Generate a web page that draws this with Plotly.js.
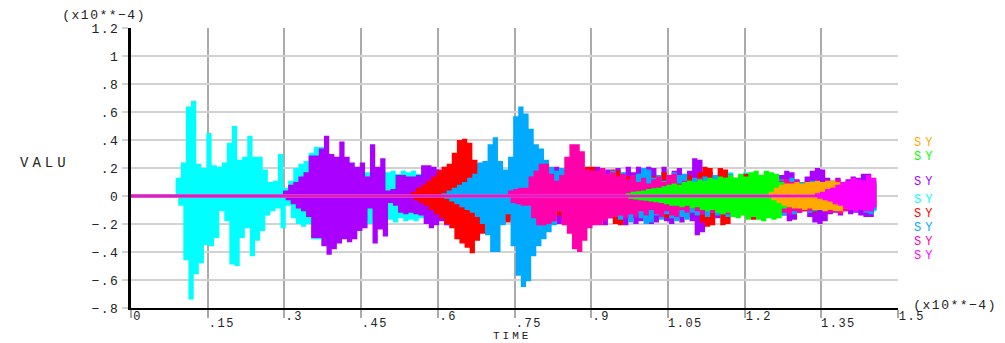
<!DOCTYPE html>
<html><head><meta charset="utf-8">
<script src="https://cdn.plot.ly/plotly-3.0.1.min.js"></script>
<style>
html,body{margin:0;padding:0;background:#fff;}
#chart{width:1005px;height:343px;}
#chart text{letter-spacing:1.5px;}
</style></head><body><div id="chart"></div>
<script>
// ---- axes ----
const xTicks = [0,0.15,0.3,0.45,0.6,0.75,0.9,1.05,1.2,1.35,1.5];
const xTickText = ["0",".15",".3",".45",".6",".75",".9","1.05","1.2","1.35","1.5"];
const yTicks = [-0.8,-0.6,-0.4,-0.2,0,0.2,0.4,0.6,0.8,1,1.2];
const yTickText = ["\u2212.8","\u2212.6","\u2212.4","\u2212.2","0",".2",".4",".6",".8","1","1.2"];
const sampleStep = 0.01; // one up/down swing per step

// ---- series (values x10**-4), upper and lower swing per step ----
const cyanStart = 0.09;
const cyanHi = [0.12,0.23,0.63,0.67,0.22,0.19,0.44,0.21,0.20,0.23,
0.37,0.49,0.25,0.27,0.42,0.27,0.27,0.18,0.09,0.10,
0.29,0.05,0.10,0.19,0.22,0.24,0.30,0.34,0.34,0.28,
0.25,0.22,0.20,0.18,0.20,0.17,0.19,0.16,0.18,0.15,
0.17,0.16,0.17,0.15,0.17,0.16,0.17,0.15,0.16,0.14,
0.16,0.15,
0.15,0.17,0.12,0.16,0.13,0.17,0.14,0.11,0.16,0.13,
0.15,0.12,0.16,0.14,0.11,0.15,0.13,0.16,0.12,0.14,
0.15,0.11,0.14,0.12,0.15,0.13,0.10,0.14,0.12,0.15,
0.11,0.13,0.15,0.12,0.14,0.16,0.16,0.12,0.10,0.13,
0.11,0.14,0.12,0.10,0.13,0.11,0.14,0.10,0.12,0.11,
0.13,0.10,0.12,0.11,0.13,0.14,0.16,0.11,0.13,0.16,
0.12,0.10,0.11,0.09,0.11,0.10,0.12,0.09,0.10,0.08,
0.09,0.10,0.08,0.07,0.09,0.08,0.10,0.07,0.08,0.09,
0.07,0.08,0.07,0.10,0.08];
const cyanLo = [-0.06,-0.45,-0.73,-0.55,-0.47,-0.34,-0.35,-0.29,-0.10,-0.17,
-0.48,-0.49,-0.29,-0.22,-0.42,-0.31,-0.24,-0.13,-0.10,-0.08,
-0.22,-0.06,-0.15,-0.19,-0.21,-0.19,-0.30,-0.30,-0.34,-0.30,
-0.28,-0.25,-0.22,-0.20,-0.18,-0.20,-0.17,-0.19,-0.16,-0.18,
-0.17,-0.16,-0.18,-0.15,-0.17,-0.16,-0.17,-0.15,-0.16,-0.14,
-0.15,-0.15,
-0.16,-0.13,-0.17,-0.12,-0.15,-0.14,-0.16,-0.12,-0.14,-0.17,
-0.13,-0.15,-0.12,-0.16,-0.14,-0.13,-0.15,-0.11,-0.14,-0.16,
-0.12,-0.15,-0.13,-0.11,-0.14,-0.12,-0.15,-0.13,-0.11,-0.14,
-0.13,-0.15,-0.12,-0.14,-0.11,-0.14,-0.15,-0.12,-0.13,-0.11,
-0.13,-0.12,-0.10,-0.13,-0.11,-0.12,-0.14,-0.10,-0.12,-0.11,
-0.12,-0.10,-0.13,-0.11,-0.12,-0.10,-0.12,-0.11,-0.10,-0.12,
-0.11,-0.09,-0.11,-0.10,-0.09,-0.10,-0.09,-0.11,-0.09,-0.10,
-0.08,-0.09,-0.08,-0.10,-0.08,-0.07,-0.08,-0.09,-0.07,-0.08,
-0.08,-0.07,-0.09,-0.12,-0.11];

const purpleStart = 0.30;
const purpleHi = [0.03,0.07,0.09,0.13,0.16,0.28,0.28,0.33,0.42,0.29,
0.27,0.38,0.27,0.23,0.20,0.23,0.13,0.36,0.20,0.26,
0.03,0.04,0.14,0.14,0.13,0.13,0.14,0.21,0.21,0.20,
0.18,0.14,0.20,0.15,0.17,0.13,0.19,0.16,0.22,0.18,
0.15,0.19,0.14,0.17,0.20,0.15,0.18,0.13,0.17,0.15,
0.19,0.14,0.17,0.20,0.15,0.18,0.13,0.16,0.19,0.14,
0.17,0.20,0.15,0.18,0.13,0.19,0.15,0.20,0.16,0.20,
0.17,0.20,0.19,0.14,0.20,0.13,0.17,0.19,0.14,0.17,
0.26,0.25,0.14,0.16,0.12,0.15,0.11,0.14,0.10,0.13,
0.11,0.13,0.10,0.12,0.09,0.12,0.10,0.14,0.17,0.16,
0.11,0.09,0.13,0.17,0.19,0.18,0.12,0.10,0.12,0.09,
0.11,0.13,0.12,0.15,0.15,0.10];
const purpleLo = [-0.02,-0.05,-0.08,-0.10,-0.14,-0.29,-0.29,-0.35,-0.41,-0.37,
-0.33,-0.30,-0.32,-0.30,-0.24,-0.22,-0.08,-0.33,-0.23,-0.28,
-0.04,-0.06,-0.11,-0.12,-0.11,-0.12,-0.13,-0.19,-0.22,-0.20,
-0.17,-0.20,-0.14,-0.18,-0.15,-0.19,-0.14,-0.17,-0.20,-0.16,
-0.18,-0.14,-0.19,-0.16,-0.15,-0.20,-0.16,-0.18,-0.14,-0.19,
-0.16,-0.18,-0.14,-0.19,-0.17,-0.15,-0.20,-0.16,-0.18,-0.15,
-0.19,-0.16,-0.20,-0.15,-0.18,-0.17,-0.20,-0.15,-0.19,-0.17,
-0.15,-0.19,-0.18,-0.14,-0.17,-0.19,-0.15,-0.18,-0.14,-0.17,
-0.27,-0.25,-0.16,-0.13,-0.15,-0.12,-0.14,-0.11,-0.13,-0.12,
-0.10,-0.12,-0.11,-0.13,-0.10,-0.12,-0.11,-0.13,-0.17,-0.16,
-0.11,-0.10,-0.14,-0.18,-0.19,-0.17,-0.12,-0.11,-0.13,-0.10,
-0.12,-0.11,-0.13,-0.14,-0.14,-0.10];

const redStart = 0.55;
const redHi = [0.02,0.05,0.07,0.10,0.13,0.17,0.20,0.22,0.30,0.39,
0.40,0.37,0.25,0.22,0.18,
0.16,0.12,0.17,0.13,0.15,0.11,0.16,0.14,0.12,0.15,
0.13,0.14,0.16,0.15,0.11,0.13,0.10,0.14,0.16,0.20,
0.20,0.12,0.14,0.10,0.18,0.17,0.11,0.13,0.09,0.12,
0.14,0.10,0.13,0.11,0.16,0.12,0.10,0.13,0.11,0.14,
0.10,0.16,0.20,0.19,0.11,0.19,0.18,0.10,0.12,0.11,
0.15,0.15,0.09,0.11,0.08,0.10,0.09,0.11,0.08,0.10,
0.09,0.07,0.09,0.10,0.07,0.08,0.10,0.07,0.08,0.06,
0.08,0.07,0.09,0.06,0.07,0.05];
const redLo = [-0.02,-0.04,-0.06,-0.09,-0.12,-0.15,-0.19,-0.22,-0.30,-0.33,
-0.36,-0.40,-0.31,-0.26,-0.20,
-0.17,-0.13,-0.15,-0.18,-0.12,-0.16,-0.14,-0.13,-0.16,-0.12,
-0.15,-0.13,-0.14,-0.13,-0.15,-0.11,-0.14,-0.12,-0.15,-0.18,
-0.19,-0.13,-0.11,-0.14,-0.19,-0.20,-0.12,-0.14,-0.10,-0.13,
-0.12,-0.14,-0.11,-0.13,-0.15,-0.10,-0.13,-0.12,-0.14,-0.11,
-0.13,-0.18,-0.21,-0.20,-0.12,-0.20,-0.19,-0.11,-0.13,-0.10,
-0.15,-0.16,-0.10,-0.12,-0.09,-0.11,-0.10,-0.12,-0.09,-0.11,
-0.08,-0.10,-0.09,-0.11,-0.08,-0.09,-0.07,-0.09,-0.08,-0.07,
-0.09,-0.07,-0.08,-0.06,-0.07,-0.05];

const blueStart = 0.61;
const blueHi = [0.01,0.03,0.05,0.07,0.09,0.12,0.15,0.23,0.24,0.36,
0.41,0.24,0.18,0.27,0.56,0.63,0.58,0.47,0.36,0.33,
0.25,0.20,0.17,0.19,
0.16,0.12,0.17,0.10,0.15,0.13,0.16,0.11,0.14,0.17,
0.12,0.16,0.10,0.13,0.15,0.19,0.18,0.12,0.14,0.10,
0.13,0.16,0.14,0.15,0.10,0.12,0.09,0.13,0.11,0.14,
0.10,0.12,0.15,0.11,0.13,0.09,0.11,0.10,0.12,0.08,
0.10,0.09,0.11,0.10,0.12,0.08,0.09,0.07,0.10,0.08,
0.09,0.07,0.08,0.10,0.07,0.09,0.08,0.10,0.08,0.11,0.09];
const blueLo = [-0.01,-0.03,-0.05,-0.07,-0.09,-0.11,-0.14,-0.19,-0.27,-0.39,
-0.39,-0.20,-0.12,-0.35,-0.56,-0.64,-0.60,-0.42,-0.35,-0.30,
-0.25,-0.20,-0.10,-0.12,
-0.15,-0.17,-0.12,-0.16,-0.13,-0.15,-0.17,-0.12,-0.15,-0.13,
-0.16,-0.14,-0.18,-0.12,-0.15,-0.19,-0.18,-0.13,-0.16,-0.12,
-0.15,-0.17,-0.14,-0.16,-0.11,-0.13,-0.12,-0.14,-0.11,-0.13,
-0.12,-0.14,-0.13,-0.10,-0.12,-0.13,-0.11,-0.12,-0.10,-0.11,
-0.12,-0.10,-0.13,-0.11,-0.12,-0.10,-0.09,-0.11,-0.10,-0.09,
-0.10,-0.08,-0.09,-0.11,-0.09,-0.08,-0.10,-0.09,-0.11,-0.12,-0.10];

const pinkStart = 0.74;
const pinkHi = [0.03,0.04,0.05,0.05,0.13,0.17,0.22,0.22,0.15,0.10,
0.14,0.27,0.36,0.36,0.31,0.18,0.17,0.17,
0.19,0.15,0.16,0.13,0.15,0.11,0.14,0.09,0.12,0.08,
0.11,0.13,0.09,0.14,0.15,0.08,0.10,0.07,0.09,0.12,
0.08,0.10,0.07,0.09,0.11,0.08,0.07,0.09,0.06,0.08,
0.07,0.09,0.06,0.08,0.07,0.10,0.11,0.09,0.10,0.07,
0.09,0.08,0.06,0.09,0.10,0.08,0.11,0.09,0.07,0.08,
0.06,0.08,0.09,0.07];
const pinkLo = [-0.04,-0.05,-0.06,-0.06,-0.15,-0.20,-0.20,-0.19,-0.17,-0.10,
-0.20,-0.26,-0.37,-0.39,-0.31,-0.22,-0.20,-0.20,
-0.17,-0.15,-0.14,-0.13,-0.15,-0.12,-0.14,-0.10,-0.13,-0.09,
-0.12,-0.14,-0.10,-0.13,-0.14,-0.09,-0.11,-0.08,-0.10,-0.12,
-0.09,-0.11,-0.08,-0.10,-0.12,-0.09,-0.08,-0.10,-0.07,-0.09,
-0.08,-0.10,-0.07,-0.09,-0.08,-0.11,-0.12,-0.10,-0.11,-0.08,
-0.10,-0.09,-0.07,-0.10,-0.11,-0.09,-0.12,-0.10,-0.08,-0.09,
-0.07,-0.09,-0.10,-0.08];

const greenStart = 0.97;
const greenHi = [0.01,0.02,0.025,0.03,0.04,0.045,0.05,0.06,0.07,0.08,
0.07,0.09,0.10,0.09,0.11,0.10,0.12,0.11,0.13,0.12,
0.14,0.12,0.15,0.13,0.16,0.17,0.14,0.17,0.16,0.15,
0.09,0.06,0.05,0.04,0.04,0.03,0.03,0.03,0.03,0.03,
0.02,0.03,0.02,0.02,0.02,0.02,0.02,0.02,0.02];
const greenLo = [-0.01,-0.015,-0.02,-0.025,-0.03,-0.035,-0.04,-0.05,-0.06,-0.06,
-0.07,-0.06,-0.08,-0.07,-0.09,-0.10,-0.09,-0.11,-0.12,-0.11,
-0.14,-0.15,-0.13,-0.16,-0.14,-0.16,-0.17,-0.15,-0.16,-0.15,
-0.08,-0.05,-0.04,-0.04,-0.03,-0.03,-0.03,-0.03,-0.02,-0.02,
-0.02,-0.02,-0.02,-0.02,-0.02,-0.02,-0.02,-0.02,-0.02];

const orangeStart = 1.25;
const orangeHi = [0.02,0.05,0.07,0.08,0.08,0.09,0.08,0.09,0.09,0.10,
0.09,0.10,0.10,0.09,0.08,0.07,0.06,0.06,0.05,0.05,0.05];
const orangeLo = [-0.02,-0.04,-0.06,-0.07,-0.08,-0.08,-0.09,-0.08,-0.09,-0.09,
-0.10,-0.09,-0.10,-0.10,-0.08,-0.07,-0.07,-0.06,-0.06,-0.05,-0.05];

const magentaStart = 1.34;
const magentaHi = [0.01,0.02,0.04,0.05,0.07,0.09,0.10,0.12,0.11,0.10,0.14,0.12];
const magentaLo = [-0.01,-0.02,-0.03,-0.05,-0.06,-0.08,-0.09,-0.10,-0.09,-0.10,-0.10,-0.08];

const seriesLabel = "SY";
const colors = {cyan:"#00ffff", purple:"#aa00ff", red:"#ff0000", blue:"#00aaff",
  pink:"#ff00aa", green:"#00ff00", orange:"#ffaa00", magenta:"#ff00ff"};

function build(t0, hi, lo, color) {
  const x = [0, t0 - sampleStep/2], y = [0, 0];
  for (let i = 0; i < hi.length; i++) {
    x.push(t0 + i*sampleStep); y.push(hi[i]);
    x.push(t0 + i*sampleStep + sampleStep/2); y.push(lo[i]);
  }
  return {type:"scatter", mode:"lines", x:x, y:y, hoverinfo:"skip",
    line:{color:color, width:2.7, shape:"hv", simplify:false}, showlegend:false};
}

const traces = [
  build(cyanStart, cyanHi, cyanLo, colors.cyan),
  build(purpleStart, purpleHi, purpleLo, colors.purple),
  build(redStart, redHi, redLo, colors.red),
  build(blueStart, blueHi, blueLo, colors.blue),
  build(pinkStart, pinkHi, pinkLo, colors.pink),
  build(greenStart, greenHi, greenLo, colors.green),
  build(orangeStart, orangeHi, orangeLo, colors.orange),
  build(magentaStart, magentaHi, magentaLo, colors.magenta)
];

// plot area in pixels: left 131, right 898, top 28, bottom 308
const L = 131, R = 898, T = 28, B = 308;
const px = v => (v - L) / (R - L);
const py = v => (B - v) / (B - T);
const txtFont = {family:"Liberation Mono, DejaVu Sans Mono, monospace", size:13, color:"#222"};
const smallFont = Object.assign({}, txtFont, {size:12});
const wide = (s, sp) => '<span style="letter-spacing:' + sp + 'px">' + s + '</span>';

const ann = [];
xTicks.forEach((v, i) => {
  ann.push({x:v, xref:"x", y: py(i % 2 === 0 ? 317 : 324), yref:"paper", borderpad:0,
    text:xTickText[i], showarrow:false, xanchor:"left", yanchor:"middle", xshift:2, font:smallFont});
});
ann.push({x:px(67), y:py(16), xref:"paper", yref:"paper", text:"(x10**\u22124)", showarrow:false, xanchor:"left", yanchor:"middle", font:txtFont});
ann.push({x:px(918), y:py(305), xref:"paper", yref:"paper", text:"(x10**\u22124)", showarrow:false, xanchor:"left", yanchor:"middle", font:txtFont});
ann.push({x:px(18), y:py(163), xref:"paper", yref:"paper", text:wide("VALU", 4), showarrow:false, xanchor:"left", yanchor:"middle", font:Object.assign({}, txtFont, {size:14})});
ann.push({x:px(512), y:py(343), xref:"paper", yref:"paper", text:wide("TIME", 3), showarrow:false, xanchor:"center", yanchor:"bottom", borderpad:0, font:Object.assign({}, txtFont, {size:11})});
const legendRows = [[colors.orange,143],[colors.green,157],[colors.purple,182],[colors.cyan,200],
  [colors.red,214],[colors.blue,228],[colors.pink,242],[colors.magenta,256]];
legendRows.forEach(r => {
  ann.push({x:px(913), y:py(r[1]), xref:"paper", yref:"paper", text:wide(seriesLabel, 4), showarrow:false, borderpad:0,
    xanchor:"left", yanchor:"middle", font:Object.assign({}, txtFont, {size:12, color:r[0]})});
});

const layout = {
  width:1005, height:343,
  margin:{l:L, r:1005-R, t:T, b:343-B, pad:0},
  paper_bgcolor:"#ffffff", plot_bgcolor:"#ffffff",
  showlegend:false,
  xaxis:{range:[0,1.5], tickvals:xTicks, showticklabels:false, showgrid:true, gridcolor:"#aaaaaa", gridwidth:2,
    ticks:"outside", ticklen:8, tickwidth:2, tickcolor:"#aaaaaa",
    showline:true, linecolor:"#000000", linewidth:2, zeroline:false, fixedrange:true},
  yaxis:{range:[-0.8,1.2], tickvals:yTicks, ticktext:yTickText, showgrid:true, gridcolor:"#d2d2d2", gridwidth:2,
    ticks:"outside", ticklen:6, tickwidth:2, tickcolor:"#d2d2d2", tickfont:txtFont,
    showline:true, linecolor:"#000000", linewidth:3, zeroline:false, fixedrange:true},
  annotations:ann
};

Plotly.newPlot("chart", traces, layout, {staticPlot:true, displayModeBar:false});
</script></body></html>
